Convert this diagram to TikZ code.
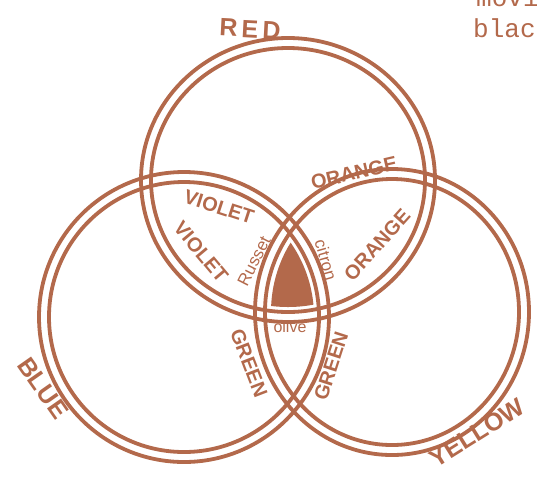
\documentclass[tikz,border=0pt]{standalone}
\usepackage{fontspec}
\setmainfont{Liberation Sans}
\newfontfamily\typefont{Liberation Mono}
\usetikzlibrary{positioning}
\definecolor{InkBrown}{HTML}{B3694B}
\tikzset{
ring/.style={draw=InkBrown, line width=3.8pt},
biglabel/.style={text=InkBrown, inner sep=0pt, font=\fontsize{25}{25}\selectfont\bfseries},
huelabel/.style={text=InkBrown, inner sep=0pt, font=\fontsize{20}{20}\selectfont\bfseries},
tintlabel/.style={text=InkBrown, inner sep=0pt, font=\fontsize{17}{17}\selectfont},
pagetext/.style={text=InkBrown, inner sep=0pt, anchor=base west, font=\typefont\fontsize{26}{26}\selectfont}
}

\begin{document}
\begin{tikzpicture}[x=1pt, y=-1pt]
\useasboundingbox (0,0) rectangle (537,483);
\clip (0,0) rectangle (537,483);

% the three double rings
\coordinate (redc) at (288,180);
\coordinate (bluec) at (184,317);
\coordinate (yelc) at (392,312);
\draw[ring] (redc) ellipse [x radius=147, y radius=142];
\draw[ring] (redc) ellipse [x radius=137, y radius=132];
\draw[ring] (bluec) ellipse [x radius=145, y radius=145];
\draw[ring] (bluec) ellipse [x radius=135, y radius=135];
\draw[ring] (yelc) ellipse [x radius=137, y radius=143];
\draw[ring] (yelc) ellipse [x radius=127, y radius=133];

% centre where all three meet
\begin{scope}
\clip (bluec) ellipse [x radius=130, y radius=130];
\clip (yelc) ellipse [x radius=121, y radius=127];
\fill[InkBrown] (redc) ellipse [x radius=132, y radius=127];
\end{scope}

% names of the rings
\node[biglabel, rotate=-3] (red) at (250,29) {R\,E\,D};
\node[biglabel, rotate=-55] (blue) at (43,388) {BLUE};
\node[biglabel, rotate=32] (yellow) at (477,433) {YELLOW};

% overlaps
\node[huelabel, rotate=-18] (violetup) at (219,207) {VIOLET};
\node[huelabel, rotate=-50] (violetlo) at (201,252) {VIOLET};
\node[huelabel, rotate=13] (orangeup) at (354,173) {ORANGE};
\node[huelabel, rotate=48] (orangelo) at (377,245) {ORANGE};
\node[huelabel, rotate=-69] (greenl) at (249,363) {GREEN};
\node[huelabel, rotate=72] (greenr) at (331,366) {GREEN};

\node[tintlabel, rotate=63] (russet) at (254,261) {Russet};
\node[tintlabel, rotate=-74] (citron) at (326,260) {citron};
\node[tintlabel, font=\fontsize{16}{16}\selectfont] (olive) at (290,327) {olive};

% typed text at the page edge
\node[pagetext] (movi) at (476,6) {movi};
\node[pagetext] (blac) at (473,37) {blac};
\end{tikzpicture}
\end{document}
